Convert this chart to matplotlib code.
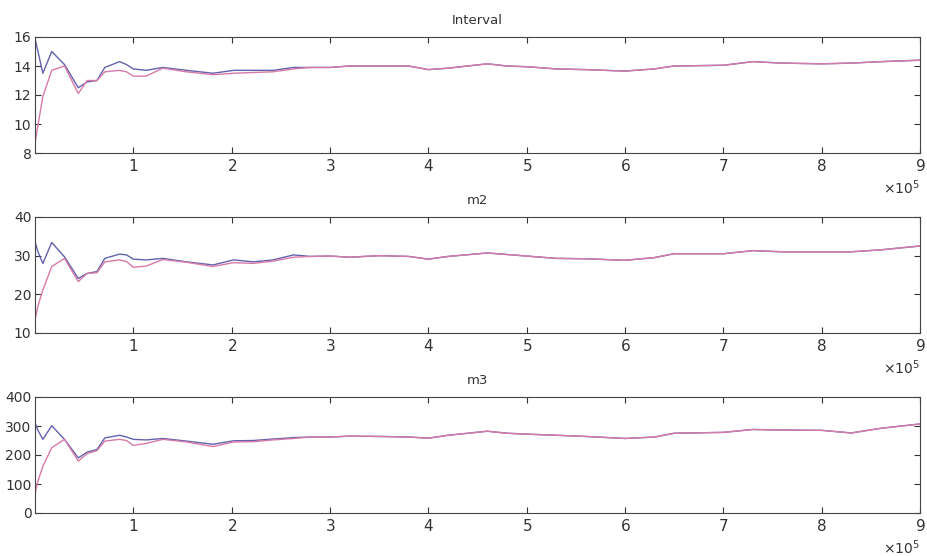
import numpy as np
import matplotlib
matplotlib.use('Agg')
import matplotlib.pyplot as plt
from matplotlib.ticker import ScalarFormatter

# x positions (units of 1e5 samples)
x_early = [0.0, 0.03, 0.08, 0.17, 0.3, 0.44, 0.53, 0.63, 0.71, 0.86, 0.93, 1.0, 1.13, 1.3, 1.54, 1.81, 2.02, 2.22, 2.42, 2.63]
x_late = [2.8, 3.0, 3.2, 3.5, 3.8, 4.0, 4.2, 4.6, 4.8, 5.0, 5.3, 5.6, 6.0, 6.3, 6.5, 7.0, 7.3, 7.6, 8.0, 8.3, 8.6, 9.0]

# Interval
int_blue_early = [15.9, 15.0, 13.5, 15.0, 14.1, 12.5, 12.9, 13.0, 13.9, 14.3, 14.1, 13.8, 13.7, 13.9, 13.7, 13.5, 13.7, 13.7, 13.7, 13.9]
int_pink_early = [8.7, 9.9, 11.9, 13.7, 14.0, 12.1, 13.0, 13.0, 13.6, 13.7, 13.6, 13.3, 13.3, 13.85, 13.6, 13.4, 13.5, 13.55, 13.6, 13.8]
int_late = [13.9, 13.9, 14.0, 14.0, 14.0, 13.75, 13.85, 14.15, 14.0, 13.95, 13.8, 13.75, 13.65, 13.8, 14.0, 14.05, 14.3, 14.2, 14.15, 14.2, 14.3, 14.4]

# m2
m2_blue_early = [33.6, 31.0, 28.0, 33.4, 29.7, 24.1, 25.4, 25.9, 29.3, 30.4, 30.2, 29.1, 28.9, 29.3, 28.4, 27.6, 28.9, 28.4, 28.9, 30.2]
m2_pink_early = [13.4, 17.0, 21.1, 27.2, 29.3, 23.3, 25.4, 25.6, 28.4, 28.9, 28.5, 27.0, 27.3, 29.0, 28.3, 27.2, 28.2, 28.0, 28.6, 29.6]
m2_late = [29.8, 29.9, 29.6, 30.0, 29.8, 29.1, 29.8, 30.7, 30.3, 29.9, 29.3, 29.2, 28.8, 29.5, 30.5, 30.5, 31.3, 31.0, 31.0, 31.0, 31.5, 32.5]

# m3
m3_blue_early = [312, 285, 254, 301, 254, 190, 210, 219, 259, 268, 262, 254, 252, 257, 248, 237, 249, 250, 255, 260]
m3_pink_early = [68, 110, 161, 225, 254, 179, 205, 215, 248, 254, 250, 233, 240, 254, 245, 229, 245, 246, 252, 257]
m3_late = [262, 262, 265, 264, 262, 258, 268, 282, 275, 272, 268, 264, 257, 262, 275, 278, 288, 286, 285, 276, 292, 307]

titles = ['Interval', 'm2', 'm3']
ylims = [(8, 16), (10, 40), (0, 400)]
yticks = [[8, 10, 12, 14, 16], [10, 20, 30, 40], [0, 100, 200, 300, 400]]
blues = [int_blue_early, m2_blue_early, m3_blue_early]
pinks = [int_pink_early, m2_pink_early, m3_pink_early]
lates = [int_late, m2_late, m3_late]

fig = plt.figure(figsize=(9.27, 5.56), dpi=100)
bottoms = [1 - 153 / 556, 1 - 333 / 556, 1 - 513 / 556]
height = 116 / 556
left = 35 / 927
width = (920 - 35) / 927

for i in range(3):
    ax = fig.add_axes([left, bottoms[i], width, height])
    xs = np.array(x_early + x_late) * 1e5
    yb = blues[i] + lates[i]
    yp = pinks[i] + lates[i]
    ax.plot(xs, yb, color='#6262ae', lw=1.0)
    ax.plot(xs, yp, color='#d87aa8', lw=1.0)
    ax.set_xlim(0, 9e5)
    ax.set_ylim(*ylims[i])
    ax.set_yticks(yticks[i])
    ax.set_xticks(np.arange(1, 10) * 1e5)
    fmt = ScalarFormatter(useMathText=True)
    fmt.set_powerlimits((0, 0))
    ax.xaxis.set_major_formatter(fmt)
    ax.tick_params(direction='in', top=True, right=True, labelsize=11, length=4, colors='#333333')
    ax.tick_params(axis='y', labelsize=10, pad=2.5)
    ax.xaxis.get_offset_text().set_fontsize(10)
    for s in ax.spines.values():
        s.set_color('#444444')
    ax.set_title(titles[i], fontsize=9.5, color='#333333', pad=9)

plt.savefig('out.png', dpi=100)
